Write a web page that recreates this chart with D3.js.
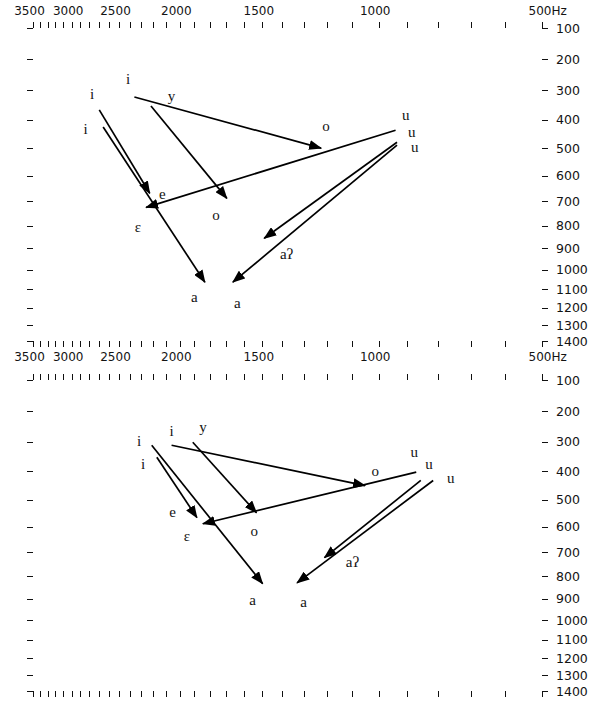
<!DOCTYPE html>
<html lang="en">
<head>
<meta charset="UTF-8">
<title>Vowel trajectories (F1 / F2, Bark scaled)</title>
<script src="https://d3js.org/d3.v7.min.js"></script>
<style>
    body {
        margin: 0;
        background: #fff;
    }

    svg {
        display: block;
    }

    .axis {
        color: #111;
    }

    .axis line {
        shape-rendering: crispEdges;
    }

    .axis text {
        font-family: "DejaVu Sans", sans-serif;
        font-size: 12px;
        fill: #111;
        opacity: 0.99;
    }

    .vowel {
        font-family: "Liberation Serif", "DejaVu Serif", serif;
        font-size: 15px;
        fill: #111;
        opacity: 0.99;
    }

    .arrow {
        stroke: #000;
        stroke-width: 1.7;
    }
</style>
</head>
<body>
<svg id="chart"></svg>
<script>
    // tick values (Hz)
    const f2Ticks = d3.range(500, 3501, 100);
    const f2Labels = [3500, 3000, 2500, 2000, 1500, 1000, 500];
    const f1Ticks = d3.range(100, 1401, 100);

    // upper panel: trajectories, F2/F1 in Hz at start (a) and end (b)
    const topArrows = [
        { from: "i", to: "o",  f2a: 2360, f1a: 323, f2b: 1225, f1b: 499 },
        { from: "i", to: "e",  f2a: 2695, f1a: 366, f2b: 2230, f1b: 668 },
        { from: "i", to: "a",  f2a: 2655, f1a: 425, f2b: 1830, f1b: 1063 },
        { from: "y", to: "o",  f2a: 2220, f1a: 353, f2b: 1695, f1b: 688 },
        { from: "u", to: "ɛ",  f2a: 940,  f1a: 436, f2b: 2260, f1b: 724 },
        { from: "u", to: "aʔ", f2a: 935,  f1a: 478, f2b: 1490, f1b: 855 },
        { from: "u", to: "a",  f2a: 935,  f1a: 488, f2b: 1660, f1b: 1063 }
    ];

    const topLabels = [
        { v: "i",  f2: 2415, f1: 268 },
        { v: "i",  f2: 2770, f1: 317 },
        { v: "i",  f2: 2840, f1: 436 },
        { v: "y",  f2: 2060, f1: 326 },
        { v: "u",  f2: 905,  f1: 390 },
        { v: "u",  f2: 885,  f1: 447 },
        { v: "u",  f2: 875,  f1: 499 },
        { v: "o",  f2: 1205, f1: 425 },
        { v: "o",  f2: 1760, f1: 760 },
        { v: "e",  f2: 2130, f1: 675 },
        { v: "ɛ",  f2: 2330, f1: 811 },
        { v: "a",  f2: 1900, f1: 1147 },
        { v: "a",  f2: 1635, f1: 1180 },
        { v: "aʔ", f2: 1380, f1: 932 }
    ];

    // lower panel
    const bottomArrows = [
        { from: "i", to: "a",  f2a: 2214, f1a: 312, f2b: 1498, f1b: 832 },
        { from: "i", to: "e",  f2a: 2173, f1a: 352, f2b: 1882, f1b: 566 },
        { from: "i", to: "o",  f2a: 2060, f1a: 312, f2b: 1050, f1b: 450 },
        { from: "y", to: "o",  f2a: 1910, f1a: 302, f2b: 1530, f1b: 548 },
        { from: "u", to: "ɛ",  f2a: 870,  f1a: 403, f2b: 1843, f1b: 589 },
        { from: "u", to: "aʔ", f2a: 855,  f1a: 432, f2b: 1211, f1b: 722 },
        { from: "u", to: "a",  f2a: 815,  f1a: 432, f2b: 1331, f1b: 828 }
    ];

    const bottomLabels = [
        { v: "i",  f2: 2319, f1: 302 },
        { v: "i",  f2: 2060, f1: 270 },
        { v: "y",  f2: 1843, f1: 256 },
        { v: "i",  f2: 2286, f1: 379 },
        { v: "u",  f2: 877,  f1: 339 },
        { v: "u",  f2: 828,  f1: 379 },
        { v: "u",  f2: 760,  f1: 428 },
        { v: "o",  f2: 1012, f1: 403 },
        { v: "o",  f2: 1542, f1: 622 },
        { v: "e",  f2: 2053, f1: 551 },
        { v: "ɛ",  f2: 1950, f1: 643 },
        { v: "a",  f2: 1551, f1: 910 },
        { v: "a",  f2: 1302, f1: 923 },
        { v: "aʔ", f2: 1098, f1: 746 }
    ];

    const width = 591, height = 704;
    const xLeft = 33, xRight = 542;

    const panels = [
        { top: 28,  bottom: 341, labelGap: 13, arrows: topArrows,    labels: topLabels },
        { top: 380, bottom: 691, labelGap: 19, arrows: bottomArrows, labels: bottomLabels }
    ];

    // Zwicker bark
    const bark = f => 13 * Math.atan(0.00076 * f) + 3.5 * Math.atan((f / 7500) ** 2);

    // linear in bark, domain/range in Hz/px, usable by d3.axis
    function barkScale(domain, range) {
        const lin = d3.scaleLinear().domain(domain.map(bark)).range(range);
        const s = f => lin(bark(f));
        s.domain = () => domain.slice();
        s.range = () => range.slice();
        s.copy = () => barkScale(domain, range);
        return s;
    }

    const svg = d3.select("#chart")
        .attr("width", width)
        .attr("height", height);

    svg.append("defs").append("marker")
        .attr("id", "head")
        .attr("viewBox", "0 0 13 10")
        .attr("refX", 12)
        .attr("refY", 5)
        .attr("markerWidth", 13)
        .attr("markerHeight", 10)
        .attr("markerUnits", "userSpaceOnUse")
        .attr("orient", "auto")
        .append("path")
        .attr("d", "M0,0 L13,5 L0,10 Z")
        .attr("fill", "#000");

    const x = barkScale([3500, 500], [xLeft, xRight]);

    panels.forEach(p => {
        const y = barkScale([100, 1400], [p.top, p.bottom]);
        const g = svg.append("g");

        // tick marks on all four sides, pointing outward
        g.append("g").attr("class", "axis")
            .attr("transform", `translate(0,${p.top})`)
            .call(d3.axisTop(x).tickValues(f2Ticks).tickSize(6).tickFormat(""))
            .call(a => a.select(".domain").remove());

        g.append("g").attr("class", "axis")
            .attr("transform", `translate(0,${p.bottom})`)
            .call(d3.axisBottom(x).tickValues(f2Ticks).tickSize(6).tickFormat(""))
            .call(a => a.select(".domain").remove());

        g.append("g").attr("class", "axis")
            .attr("transform", `translate(${xLeft},0)`)
            .call(d3.axisLeft(y).tickValues(f1Ticks).tickSize(6).tickFormat(""))
            .call(a => a.select(".domain").remove());

        g.append("g").attr("class", "axis")
            .attr("transform", `translate(${xRight},0)`)
            .call(d3.axisRight(y).tickValues(f1Ticks).tickSize(6).tickPadding(8))
            .call(a => a.select(".domain").remove())
            .selectAll("text").style("font-size", "12.5px");

        // F2 labels above the frame
        const xl = g.append("g").attr("class", "axis")
            .attr("transform", `translate(0,${p.top})`)
            .call(d3.axisTop(x).tickValues(f2Labels).tickSize(0).tickPadding(p.labelGap)
                .tickFormat(d => d === 500 ? "500Hz" : d))
            .call(a => a.select(".domain").remove());
        xl.selectAll(".tick text").attr("dx", -4);
        xl.selectAll(".tick text").filter(d => d === 500)
            .attr("dx", null)
            .attr("x", -14)
            .attr("text-anchor", "start");

        // trajectories
        g.selectAll(".arrow")
            .data(p.arrows)
            .join("line")
            .attr("class", "arrow")
            .attr("x1", d => x(d.f2a))
            .attr("y1", d => y(d.f1a))
            .attr("x2", d => x(d.f2b))
            .attr("y2", d => y(d.f1b))
            .attr("marker-end", "url(#head)");

        g.selectAll(".vowel")
            .data(p.labels)
            .join("text")
            .attr("class", "vowel")
            .attr("x", d => x(d.f2))
            .attr("y", d => y(d.f1))
            .attr("text-anchor", "middle")
            .attr("dominant-baseline", "middle")
            .text(d => d.v);
    });
</script>
</body>
</html>
